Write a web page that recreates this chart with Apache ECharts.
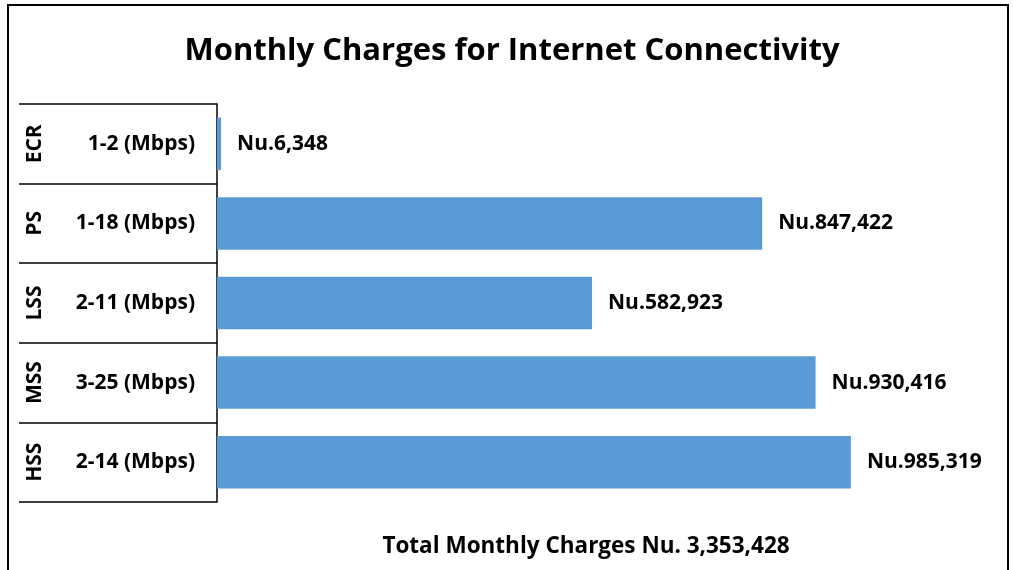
<!DOCTYPE html>
<html>
<head>
<meta charset="utf-8">
<script src="https://cdn.jsdelivr.net/npm/echarts@6/dist/echarts.min.js"></script>
<style>
  html, body { margin: 0; padding: 0; background: #fff; }
  #chart { width: 1013px; height: 570px; }
</style>
</head>
<body>
<div id="chart"></div>
<script>
// categories (top to bottom)
const services = ['ECR', 'PS', 'LSS', 'MSS', 'HSS'];
const speeds = ['1-2 (Mbps)', '1-18 (Mbps)', '2-11 (Mbps)', '3-25 (Mbps)', '2-14 (Mbps)'];
const charges = [6348, 847422, 582923, 930416, 985319];
const totalText = 'Total Monthly Charges Nu. 3,353,428';

const FONT = 'Open Sans';
const chart = echarts.init(document.getElementById('chart'));

// Nu. formatting for the bar labels
function nu(v) {
  return 'Nu.' + v.toLocaleString('en-US');
}

const option = {
  backgroundColor: '#fff',
  animation: false,
  title: [{
    text: 'Monthly Charges for Internet Connectivity',
    left: 507,
    textAlign: 'center',
    top: 31,
    textStyle: {fontFamily: FONT, fontWeight: 'bold', fontSize: 31, color: '#000'}
  }, {
    text: totalText,
    left: 581,
    textAlign: 'center',
    top: 530,
    textStyle: {fontFamily: FONT, fontWeight: 'bold', fontSize: 22.5, color: '#000'}
  }],
  graphic: [{
    type: 'rect',
    shape: {x: 8, y: 5, width: 1000, height: 620},
    style: {fill: null, stroke: '#000', lineWidth: 2},
    silent: true,
    z: 100
  }],
  grid: {left: 217, top: 104, width: 772, bottom: 68},
  xAxis: {
    type: 'value',
    min: 0,
    max: 1200000,
    show: false
  },
  yAxis: [{
    type: 'category',
    inverse: true,
    data: speeds,
    axisLine: {show: true, lineStyle: {color: '#000', width: 1.5}},
    axisTick: {show: true, length: 198, interval: 0, lineStyle: {color: '#000', width: 1.5}},
    axisLabel: {
      margin: 22,
      fontFamily: FONT, fontWeight: 'bold', fontSize: 21, color: '#000'
    },
    splitLine: {show: false}
  }, {
    type: 'category',
    inverse: true,
    position: 'left',
    data: services,
    axisLine: {show: false},
    axisTick: {show: false},
    axisLabel: {
      rotate: 90,
      margin: 171,
      fontFamily: FONT, fontWeight: 'bold', fontSize: 21, color: '#000'
    }
  }],
  series: [{
    type: 'bar',
    data: charges,
    barCategoryGap: '34%',
    itemStyle: {color: '#5B9BD5'},
    label: {
      show: true,
      position: 'right',
      distance: 16,
      formatter: p => nu(p.value),
      fontFamily: FONT, fontWeight: 'bold', fontSize: 21, color: '#000'
    }
  }]
};

chart.setOption(option);
window.addEventListener('resize', () => chart.resize());
</script>
</body>
</html>
